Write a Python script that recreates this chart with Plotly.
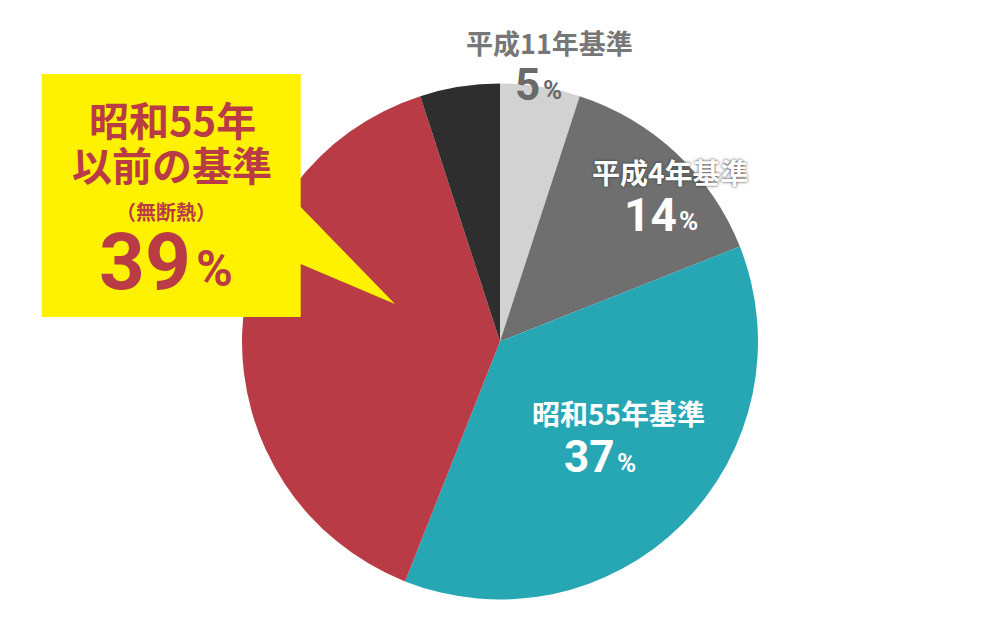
import plotly.graph_objects as go

# ---- data ----
labels = ["平成11年基準", "平成4年基準", "昭和55年基準", "昭和55年以前の基準", "その他"]
values = [5, 14, 37, 39, 5]
callout_lines = ["昭和55年", "以前の基準", "（無断熱）"]

# ---- styles ----
colors = ["#d2d2d2", "#6f6f6f", "#27a6b4", "#b93b46", "#2e2e2e"]
W, H = 1000, 625
OFF = 8  # page body margin
FONT = "Noto Sans CJK JP"
NUMFONT = "Roboto"
RED = "#b93b46"


def px(x):
    return (x - OFF) / W


def py(y):
    return 1 - (y - OFF) / H


fig = go.Figure()
fig.add_trace(go.Pie(
    labels=labels,
    values=values,
    marker=dict(colors=colors, line=dict(width=0)),
    sort=False,
    direction="clockwise",
    rotation=0,
    textinfo="none",
    hoverinfo="none",
    showlegend=False,
    domain=dict(x=[px(242), px(758)], y=[py(600), py(83)]),
))

# yellow callout box with pointer
pts = [(41.7, 74), (300.7, 74), (300.7, 207), (395, 304), (300.7, 264), (300.7, 317), (41.7, 317)]
path = "M " + " L ".join(f"{px(a):.5f},{py(b):.5f}" for a, b in pts) + " Z"
fig.add_shape(type="path", path=path, xref="paper", yref="paper",
              fillcolor="#fff200", line=dict(width=0), layer="above")

ann = []


def text(x, y, s, size, color, family=FONT, xanchor="center", shadow=None, height=None):
    f = dict(family=family, size=size, color=color, weight=700)
    if shadow:
        f["shadow"] = shadow
    a = dict(x=px(x), y=py(y), xref="paper", yref="paper", text=s,
             showarrow=False, font=f, xanchor=xanchor, yanchor="middle",
             borderpad=0)
    if height:
        a["height"] = height
    ann.append(a)


# 平成11年基準 5%
text(549, 42, labels[0], 27, "#777777")
text(541, 85, str(values[0]), 44, "#6a6a6a", NUMFONT, xanchor="right")
text(542, 90, "%", 26, "#6a6a6a", NUMFONT, xanchor="left")

# 平成4年基準 14%
text(670, 172, labels[1], 28, "#ffffff", shadow="0px 0px 3px #333333")
text(678, 215, str(values[1]), 46, "#ffffff", NUMFONT, xanchor="right")
text(678, 221, "%", 26, "#ffffff", NUMFONT, xanchor="left")

# 昭和55年基準 37%
text(618, 413, labels[2], 28, "#ffffff")
text(616, 457, str(values[2]), 44, "#ffffff", NUMFONT, xanchor="right")
text(616, 463, "%", 26, "#ffffff", NUMFONT, xanchor="left")

# callout text
text(172, 119, callout_lines[0], 40, RED, height=44)
text(172, 164, callout_lines[1], 40, RED, height=44)
text(166, 211, callout_lines[2], 20, RED, height=24)
text(192, 262, str(values[3]), 80, RED, NUMFONT, xanchor="right", height=66)
text(195, 269, "%", 50, RED, NUMFONT, xanchor="left", height=44)

fig.update_layout(
    width=W, height=H,
    margin=dict(l=0, r=0, t=0, b=0),
    paper_bgcolor="#ffffff",
    plot_bgcolor="#ffffff",
    annotations=ann,
)

fig.write_html("out.html")
